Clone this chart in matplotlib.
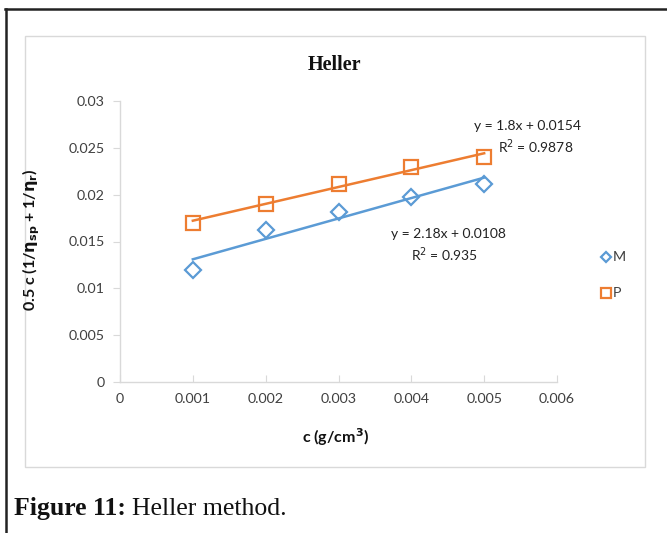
import numpy as np
import matplotlib
matplotlib.use("Agg")
import matplotlib.pyplot as plt
from matplotlib.lines import Line2D
from matplotlib.patches import Rectangle

# Data
c_vals = [0.001, 0.002, 0.003, 0.004, 0.005]
m_vals = [0.0120, 0.0162, 0.0182, 0.0198, 0.0211]
p_vals = [0.0170, 0.0190, 0.0211, 0.0230, 0.0240]
series_names = ["M", "P"]
x_ticks = [0, 0.001, 0.002, 0.003, 0.004, 0.005, 0.006]
x_tick_labels = ["0", "0.001", "0.002", "0.003", "0.004", "0.005", "0.006"]
y_ticks = [0, 0.005, 0.01, 0.015, 0.02, 0.025, 0.03]
y_tick_labels = ["0", "0.005", "0.01", "0.015", "0.02", "0.025", "0.03"]
eq_m = ["y = 2.18x + 0.0108", "R$^2$ = 0.935"]
eq_p = ["y = 1.8x + 0.0154", "R$^2$ = 0.9878"]

BLUE = "#5B9BD5"
ORANGE = "#ED7D31"
GRAY = "#D9D9D9"
TXT = "#404040"
W, H = 667, 533

fig = plt.figure(figsize=(W / 100, H / 100), dpi=100)
fig.patch.set_facecolor("white")

def fx(px):
    return px / W

def fy(py):
    return 1 - py / H

# outer black frame (top and left)
fig.add_artist(Line2D([fx(5), 1.0], [fy(9), fy(9)], color="#222222", lw=1.8))
fig.add_artist(Line2D([fx(5.5), fx(5.5)], [fy(9), 0.0], color="#222222", lw=1.8))

# chart area border
fig.add_artist(Rectangle((fx(25), fy(467)), fx(645) - fx(25), fy(36) - fy(467),
                         fill=False, edgecolor=GRAY, lw=1.0))

ax = fig.add_axes([fx(120), fy(382), fx(557) - fx(120), fy(101) - fy(382)])
ax.set_xlim(0, 0.006)
ax.set_ylim(0, 0.03)

for s in ["top", "right"]:
    ax.spines[s].set_visible(False)
for s in ["left", "bottom"]:
    ax.spines[s].set_color(GRAY)
    ax.spines[s].set_linewidth(1.0)

tfont = dict(family=["Lato", "DejaVu Sans"], size=10.3, color=TXT)
ax.set_xticks(x_ticks)
ax.set_xticklabels(x_tick_labels, **tfont)
ax.set_yticks(y_ticks)
ax.set_yticklabels(y_tick_labels, **tfont)
ax.tick_params(axis="x", direction="in", length=5, color=GRAY, pad=8)
ax.tick_params(axis="y", direction="out", length=5, color=GRAY, pad=6)

# trendlines
cx = np.array(c_vals)
for vals, col in [(m_vals, BLUE), (p_vals, ORANGE)]:
    k, b = np.polyfit(cx, np.array(vals), 1)
    ax.plot(cx, k * cx + b, color=col, lw=1.8, zorder=2)

ax.plot(c_vals, m_vals, linestyle="none", marker="D", markersize=7.8,
        markerfacecolor="none", markeredgecolor=BLUE, markeredgewidth=1.6, zorder=3)
ax.plot(c_vals, p_vals, linestyle="none", marker="s", markersize=9.5,
        markerfacecolor="none", markeredgecolor=ORANGE, markeredgewidth=1.6, zorder=3)

efont = dict(family=["Lato", "DejaVu Sans"], size=10, color="#222222")
fig.text(fx(527), fy(126), eq_p[0], ha="center", va="center", **efont)
fig.text(fx(536), fy(147), eq_p[1], ha="center", va="center", **efont)
fig.text(fx(448), fy(234), eq_m[0], ha="center", va="center", **efont)
fig.text(fx(445), fy(255), eq_m[1], ha="center", va="center", **efont)

# title
fig.text(fx(334), fy(65), "Heller", ha="center", va="center",
         family=["Liberation Serif"], weight="bold", size=14.5, color="#111111")

# axis labels
fig.text(fx(336), fy(437), "c (g/cm$^\\mathbf{3}$)", ha="center", va="center",
         family=["Lato", "DejaVu Sans"], weight="bold", size=11.5, color="#111111")
fig.text(fx(31), fy(240), "0.5 c (1/$\\mathbf{\\eta_{sp}}$ + 1/$\\mathbf{\\eta_r}$)",
         ha="center", va="center", rotation=90,
         family=["Lato", "DejaVu Sans"], weight="bold", size=11.5, color="#111111")

# legend
fig.add_artist(Line2D([fx(606)], [fy(257)], marker="D", markersize=5.5, linestyle="none",
                      markerfacecolor="none", markeredgecolor=BLUE, markeredgewidth=1.6))
fig.text(fx(613), fy(257), series_names[0], ha="left", va="center", **tfont)
fig.add_artist(Line2D([fx(606)], [fy(293)], marker="s", markersize=7, linestyle="none",
                      markerfacecolor="none", markeredgecolor=ORANGE, markeredgewidth=1.6))
fig.text(fx(613), fy(293), series_names[1], ha="left", va="center", **tfont)

# caption
cap = fig.text(fx(14), fy(509), "Figure 11:", ha="left", va="center",
               family=["Liberation Serif"], weight="bold", size=18.5, color="#111111")
fig.canvas.draw()
bb = cap.get_window_extent()
fig.text(bb.x1 / W + fx(6), fy(509), "Heller method.", ha="left", va="center",
         family=["Liberation Serif"], size=18.5, color="#111111")

fig.savefig("out.png", dpi=100, facecolor="white")
